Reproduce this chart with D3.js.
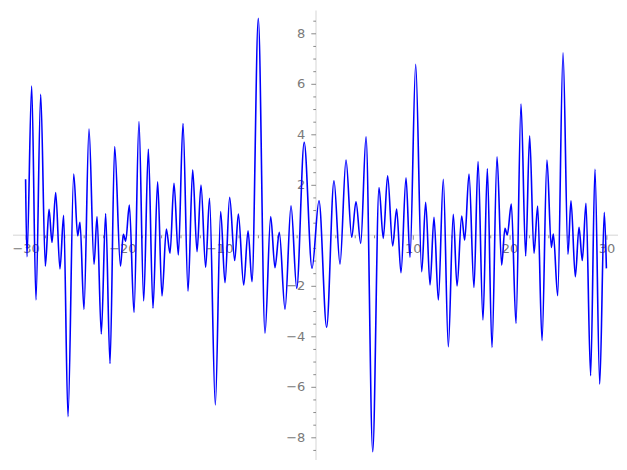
<!DOCTYPE html>
<html>
<head>
<meta charset="utf-8">
<script src="https://cdn.jsdelivr.net/npm/d3@7"></script>
<style>
  body { margin: 0; background: #fff; }
  svg { display: block; }
</style>
</head>
<body>
<svg id="plotSVG" width="627" height="470"></svg>
<script>
// local peaks and troughs of the curve
let xs = [-30, -29.86, -29.37, -28.93, -28.44, -27.96, -27.58, -27.27, -26.89, -26.45,
    -26.07, -25.62, -25.03, -24.62, -24.38, -23.97, -23.45, -22.93, -22.62, -22.18,
    -21.73, -21.28, -20.8, -20.2, -19.9, -19.66, -19.28, -18.8, -18.29, -17.8,
    -17.32, -16.84, -16.36, -15.91, -15.46, -15.08, -14.67, -14.22, -13.74, -13.22,
    -12.74, -12.29, -11.88, -11.4, -11.0, -10.4, -9.85, -9.4, -8.92, -8.4,
    -8.02, -7.47, -7.02, -6.61, -5.96, -5.27, -4.68, -4.24, -3.79, -3.2,
    -2.58, -1.99, -1.22, -0.41, 0.31, 1.1, 1.86, 2.48, 3.1, 3.69,
    4.13, 4.62, 5.17, 5.86, 6.51, 6.95, 7.4, 7.92, 8.33, 8.78,
    9.3, 9.71, 10.3, 10.92, 11.33, 11.78, 12.19, 12.64, 13.15, 13.67,
    14.18, 14.57, 15.05, 15.36, 15.81, 16.32, 16.74, 17.25, 17.7, 18.18,
    18.7, 19.18, 19.52, 19.76, 20.18, 20.66, 21.18, 21.66, 22.07, 22.52,
    22.9, 23.35, 23.86, 24.31, 24.52, 24.97, 25.52, 26.03, 26.34, 26.79,
    27.17, 27.51, 27.89, 28.37, 28.82, 29.31, 29.78, 30]
let ys = [2.22, -0.85, 5.91, -2.56, 5.58, -1.22, 1.03, -0.28, 1.69, -1.33,
    0.79, -7.18, 2.43, -0.02, 0.51, -2.93, 4.21, -1.15, 0.74, -3.91,
    0.86, -5.08, 3.51, -1.22, 0.04, -0.23, 1.2, -3.06, 4.5, -2.6,
    3.41, -2.89, 2.12, -2.4, 0.25, -0.71, 2.06, -0.78, 4.43, -2.21,
    2.59, -0.65, 1.99, -1.27, 1.47, -6.72, 0.94, -1.88, 1.5, -1.0,
    0.84, -1.97, 0.18, -1.84, 8.59, -3.88, 0.74, -1.28, 0.12, -2.93,
    1.17, -2.1, 3.68, -1.31, 1.37, -3.64, 2.16, -1.14, 2.98, -0.08,
    1.33, -0.32, 3.9, -8.57, 1.89, -0.12, 2.36, -0.42, 1.04, -1.48,
    2.28, -0.87, 6.77, -1.44, 1.31, -1.97, 0.71, -2.56, 2.22, -4.41,
    0.83, -2.01, 0.76, -0.19, 2.43, -2.07, 2.92, -3.35, 2.63, -4.44,
    3.11, -1.18, 0.28, 0.01, 1.24, -3.49, 5.2, -0.82, 3.94, -0.71,
    1.16, -4.17, 2.98, -0.48, 0.05, -2.39, 7.23, -0.75, 1.37, -1.64,
    0.32, -1.0, 1.27, -5.56, 2.61, -5.89, 0.91, -1.31]

let xTicks = [-30, -20, -10, 10, 20, 30]
let yTicks = [-8, -6, -4, -2, 2, 4, 6, 8]

let points = xs.map((x, i) => ({x: x, y: ys[i]}))

let svg = d3.select("#plotSVG")

let xScale = d3.scaleLinear()
    .domain([-30, 30])
    .range([25.6, 606.4])
let yScale = d3.scaleLinear()
    .domain([-8, 8])
    .range([437.3, 33.3])

let axisColor = "#e3e3e3"
let tickColor = "#8a8a8a"
let labelColor = "#7a7a7a"

// axis lines (light gray, crossing at the origin)
svg.append("line")
    .attr("x1", xScale(-31.3)).attr("x2", xScale(31.2))
    .attr("y1", yScale(0)).attr("y2", yScale(0))
    .attr("stroke", axisColor).attr("stroke-width", 1.5)
svg.append("line")
    .attr("x1", xScale(0)).attr("x2", xScale(0))
    .attr("y1", yScale(8.9)).attr("y2", yScale(-8.9))
    .attr("stroke", axisColor).attr("stroke-width", 1.5)

// x ticks: major every 10, minor every 2
let xMinor = d3.range(-30, 31, 2).filter(d => d % 10 !== 0)
let xAxis = svg.append("g")
    .attr("transform", `translate(0,${yScale(0)})`)
    .call(d3.axisBottom(xScale).tickValues(xMinor).tickSize(3).tickFormat(""))
xAxis.select(".domain").remove()
xAxis.selectAll("line").attr("stroke", tickColor)

let xMajor = svg.append("g")
    .attr("transform", `translate(0,${yScale(0)})`)
    .call(d3.axisBottom(xScale).tickValues(xTicks).tickSize(4.5).tickPadding(4)
        .tickFormat(d => d3.format("d")(d).replace("-", "\u2212")))
xMajor.select(".domain").remove()
xMajor.selectAll("line").attr("stroke", tickColor)
xMajor.selectAll("text")
    .attr("fill", labelColor)
    .style("font-family", "DejaVu Sans, sans-serif")
    .style("font-size", "13px")

// y ticks: major every 2, minor every 0.5
let yMinor = d3.range(-8.5, 8.6, 0.5).filter(d => d % 2 !== 0)
let yAxis = svg.append("g")
    .attr("transform", `translate(${xScale(0)},0)`)
    .call(d3.axisLeft(yScale).tickValues(yMinor).tickSize(2.7).tickFormat(""))
yAxis.select(".domain").remove()
yAxis.selectAll("line").attr("stroke", tickColor)

let yMajor = svg.append("g")
    .attr("transform", `translate(${xScale(0)},0)`)
    .call(d3.axisLeft(yScale).tickValues(yTicks).tickSize(4.7).tickPadding(6)
        .tickFormat(d => d3.format("d")(d).replace("-", "\u2212")))
yMajor.select(".domain").remove()
yMajor.selectAll("line").attr("stroke", tickColor)
yMajor.selectAll("text")
    .attr("fill", labelColor)
    .style("font-family", "DejaVu Sans, sans-serif")
    .style("font-size", "13px")

// the curve
let line = d3.line()
    .x(d => xScale(d.x))
    .y(d => yScale(d.y))
    .curve(d3.curveMonotoneX)

svg.append("path")
    .datum(points)
    .attr("d", line)
    .attr("fill", "none")
    .attr("stroke", "#0000ff")
    .attr("stroke-width", 1.6)
</script>
</body>
</html>
